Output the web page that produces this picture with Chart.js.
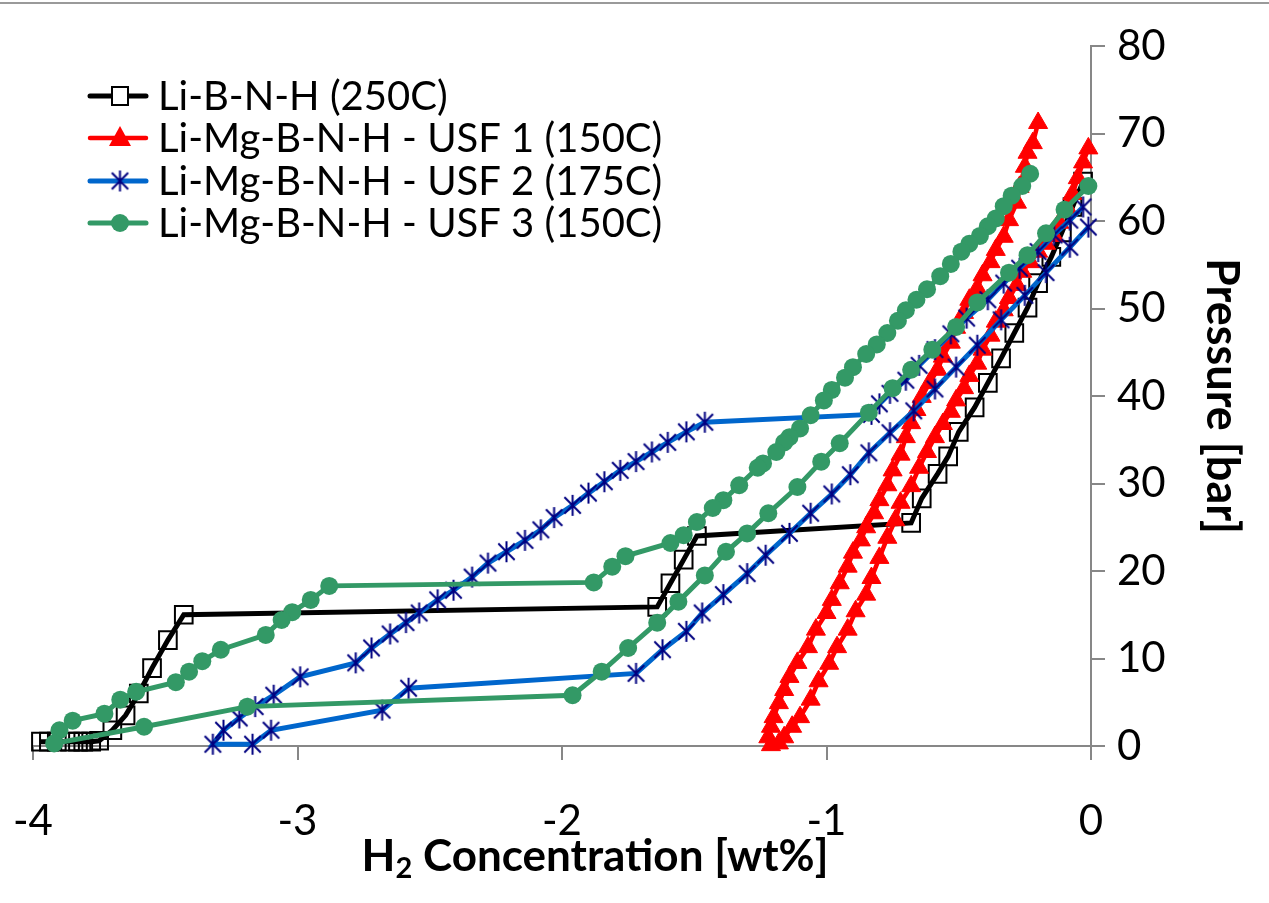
<!DOCTYPE html>
<html>
<head>
<meta charset="utf-8">
<script src="https://cdn.jsdelivr.net/npm/chart.js@4.4.1/dist/chart.umd.min.js"></script>
<style>
  html, body { margin: 0; padding: 0; background: #fff; }
  #wrap { width: 1269px; height: 903px; }
</style>
</head>
<body>
<div id="wrap"><canvas id="chart" width="1269" height="903"></canvas></div>
<script>
// x = H2 concentration [wt%], y = pressure [bar]

// Li-B-N-H (250C)
const libnhX = [-3.97, -3.94, -3.91, -3.86, -3.83, -3.81, -3.78, -3.75, -3.70, -3.65, -3.60, -3.55, -3.49, -3.43,
  -1.64, -1.59, -1.54, -1.49, -0.68, -0.64, -0.58, -0.54, -0.50, -0.44, -0.39, -0.34, -0.29, -0.24, -0.20, -0.15, -0.11, -0.07, -0.03];
const libnhY = [0.5, 0.5, 0.5, 0.5, 0.5, 0.5, 0.5, 0.6, 1.8, 3.5, 6.0, 8.9, 12.1, 15.0,
  15.9, 18.6, 21.3, 24.0, 25.5, 28.3, 31.1, 33.1, 35.9, 38.7, 41.5, 44.3, 47.2, 50.1, 52.9, 55.9, 58.7, 61.6, 64.5];

// Li-Mg-B-N-H - USF 1 (150C)
const usf1X = [-0.20, -0.22, -0.24, -0.25, -0.27, -0.28, -0.31, -0.33, -0.36, -0.38, -0.41, -0.43, -0.46, -0.48, -0.51,
  -0.53, -0.56, -0.58, -0.61, -0.64, -0.66, -0.68, -0.70, -0.72, -0.75, -0.77, -0.80, -0.82, -0.85, -0.87, -0.90,
  -0.92, -0.95, -0.98, -1.00, -1.04, -1.07, -1.11, -1.14, -1.16, -1.18, -1.20, -1.21, -1.22, -1.21,
  -1.18, -1.16, -1.13, -1.10, -1.06, -1.03, -0.99, -0.96, -0.92, -0.89, -0.85, -0.83, -0.80, -0.77, -0.74, -0.72,
  -0.68, -0.65, -0.62, -0.59, -0.56, -0.53, -0.51, -0.48, -0.46, -0.43, -0.41, -0.38, -0.36, -0.33, -0.31, -0.28,
  -0.26, -0.23, -0.20, -0.17, -0.14, -0.12, -0.09, -0.07, -0.05, -0.03, -0.01];
const usf1Y = [71.2, 68.9, 67.8, 66.2, 63.9, 62.1, 60.1, 58.2, 56.7, 55.3, 53.8, 52.3, 51.0, 49.5, 47.8,
  46.1, 44.5, 43.0, 41.5, 39.9, 38.4, 36.9, 35.3, 33.3, 31.5, 29.8, 28.1, 26.6, 25.0, 23.5, 22.1,
  20.5, 18.6, 16.7, 15.2, 13.3, 11.3, 9.5, 7.9, 6.4, 4.9, 3.3, 2.2, 1.0, 0.1,
  0.3, 1.0, 2.2, 3.3, 5.3, 7.4, 9.4, 11.3, 13.3, 15.4, 17.3, 19.2, 21.5, 23.8, 25.8, 27.8,
  29.7, 31.8, 33.6, 35.3, 36.8, 38.2, 39.5, 40.9, 42.3, 43.7, 45.3, 46.9, 48.5, 49.8, 51.2, 52.7,
  54.2, 55.3, 56.5, 57.4, 58.3, 59.8, 61.5, 63.1, 64.9, 66.7, 68.3];

// Li-Mg-B-N-H - USF 2 (175C)
const usf2X = [-0.03, -0.08, -0.14, -0.20, -0.27, -0.33, -0.39, -0.47, -0.53, -0.59, -0.65, -0.70, -0.76, -0.80, -0.83,
  -1.46, -1.53, -1.60, -1.66, -1.72, -1.78, -1.84, -1.90, -1.96, -2.03, -2.08, -2.14, -2.21, -2.28, -2.34, -2.41,
  -2.47, -2.54, -2.59, -2.65, -2.72, -2.78, -2.99, -3.09, -3.16, -3.22, -3.28, -3.32,
  -3.17, -3.10, -2.68, -2.58, -1.72, -1.62, -1.53, -1.47, -1.39, -1.30, -1.23, -1.14, -1.06, -0.98, -0.91, -0.84,
  -0.76, -0.67, -0.59, -0.51, -0.43, -0.34, -0.25, -0.17, -0.08, -0.01];
const usf2Y = [61.6, 60.1, 58.4, 56.5, 54.6, 52.9, 51.0, 48.9, 47.1, 45.3, 43.5, 41.8, 40.3, 39.1, 37.9,
  37.0, 35.9, 34.7, 33.6, 32.5, 31.5, 30.2, 28.9, 27.5, 26.1, 24.7, 23.5, 22.2, 20.9, 19.3, 17.8,
  16.7, 15.2, 14.1, 12.8, 11.2, 9.5, 7.9, 5.8, 4.5, 3.2, 1.8, 0.2,
  0.2, 1.8, 4.1, 6.6, 8.3, 11.0, 13.1, 15.2, 17.3, 19.7, 21.8, 24.3, 26.6, 28.8, 31.0, 33.5,
  35.8, 38.3, 40.8, 43.3, 45.8, 48.7, 51.5, 54.1, 57.0, 59.3];

// Li-Mg-B-N-H - USF 3 (150C)
const usf3X = [-0.23, -0.26, -0.30, -0.33, -0.36, -0.39, -0.42, -0.46, -0.49, -0.53, -0.57, -0.62, -0.66, -0.70, -0.73,
  -0.77, -0.81, -0.85, -0.90, -0.93, -0.98, -1.01, -1.06, -1.10, -1.14, -1.16, -1.19, -1.24, -1.26, -1.33, -1.39,
  -1.43, -1.49, -1.54, -1.59, -1.76, -1.81, -1.88, -2.88, -2.95, -3.02, -3.06, -3.12, -3.29, -3.36, -3.41, -3.46,
  -3.61, -3.67, -3.73, -3.85, -3.90, -3.92,
  -3.58, -3.19, -1.96, -1.85, -1.75, -1.64, -1.56, -1.46, -1.38, -1.30, -1.22, -1.11, -1.02, -0.95, -0.84,
  -0.75, -0.68, -0.60, -0.51, -0.43, -0.31, -0.24, -0.17, -0.10, -0.01];
const usf3Y = [65.4, 64.0, 62.9, 61.7, 60.3, 59.4, 58.3, 57.4, 56.5, 55.1, 53.7, 52.2, 51.0, 49.8, 48.6,
  47.2, 45.9, 44.8, 43.3, 42.1, 40.7, 39.5, 37.8, 36.3, 35.3, 34.7, 33.6, 32.3, 31.8, 29.8, 28.1,
  27.2, 25.6, 24.1, 23.2, 21.7, 20.5, 18.7, 18.3, 16.7, 15.3, 14.4, 12.7, 11.0, 9.7, 8.5, 7.3,
  6.2, 5.3, 3.7, 2.9, 1.8, 0.3,
  2.2, 4.5, 5.8, 8.5, 11.2, 14.1, 16.5, 19.5, 22.2, 24.3, 26.6, 29.6, 32.5, 34.6, 38.1,
  40.9, 43.0, 45.3, 47.9, 50.7, 54.1, 56.1, 58.6, 61.3, 64.0];

const seriesNames = ['Li-B-N-H (250C)', 'Li-Mg-B-N-H - USF 1 (150C)', 'Li-Mg-B-N-H - USF 2 (175C)', 'Li-Mg-B-N-H - USF 3 (150C)'];

const xTicks = [-4, -3, -2, -1, 0];
const yTicks = [0, 10, 20, 30, 40, 50, 60, 70, 80];

function pairs(xs, ys) {
    return xs.map((x, i) => ({ x: x, y: ys[i] }));
}

// asterisk marker like the spreadsheet one
function makeAsterisk(size, color) {
    const c = document.createElement('canvas');
    c.width = size;
    c.height = size;
    const g = c.getContext('2d');
    const m = size / 2;
    const r = size / 2 - 1;
    g.strokeStyle = color;
    g.lineWidth = 2;
    g.beginPath();
    g.moveTo(m, m - r); g.lineTo(m, m + r);
    const d = r * 0.78;
    g.moveTo(m - d, m - d); g.lineTo(m + d, m + d);
    g.moveTo(m + d, m - d); g.lineTo(m - d, m + d);
    g.stroke();
    return c;
}
const asterisk = makeAsterisk(23, '#000080');

const FONT = 'Lato';
const GREY = '#878787';

const extras = {
    id: 'extras',
    afterDraw(chart) {
        const ctx = chart.ctx;
        ctx.save();
        // thin frame line on top
        ctx.strokeStyle = '#9a9a9a';
        ctx.lineWidth = 2;
        ctx.beginPath();
        ctx.moveTo(0, 3);
        ctx.lineTo(1269, 3);
        ctx.stroke();

        // x axis title with subscript
        ctx.fillStyle = '#000';
        ctx.textBaseline = 'middle';
        ctx.textAlign = 'left';
        const big = 'bold 44px ' + FONT;
        const small = 'bold 29px ' + FONT;
        const rest = ' Concentration [wt%]';
        ctx.font = big;
        const wH = ctx.measureText('H').width;
        const wRest = ctx.measureText(rest).width;
        ctx.font = small;
        const w2 = ctx.measureText('2').width;
        let x0 = 595 - (wH + w2 + wRest) / 2;
        const yT = 857;
        ctx.font = big;
        ctx.fillText('H', x0, yT);
        ctx.font = small;
        ctx.fillText('2', x0 + wH, yT + 12);
        ctx.font = big;
        ctx.fillText(rest, x0 + wH + w2, yT);

        // legend
        const rows = [96, 138, 181, 223];
        chart.data.datasets.forEach((ds, i) => {
            const y = rows[i];
            ctx.strokeStyle = ds.borderColor;
            ctx.lineWidth = ds.borderWidth;
            ctx.lineCap = 'round';
            ctx.beginPath();
            ctx.moveTo(90, y);
            ctx.lineTo(146, y);
            ctx.stroke();
            const cx = 120;
            if (ds.pointStyle === 'rect') {
                ctx.fillStyle = '#fff';
                ctx.fillRect(cx - 8, y - 9, 16, 18);
                ctx.strokeStyle = '#000';
                ctx.lineWidth = 2;
                ctx.strokeRect(cx - 8, y - 9, 16, 18);
            } else if (ds.pointStyle === 'triangle') {
                ctx.fillStyle = ds.pointBackgroundColor;
                ctx.beginPath();
                ctx.moveTo(cx, y - 12);
                ctx.lineTo(cx + 11, y + 8);
                ctx.lineTo(cx - 11, y + 8);
                ctx.closePath();
                ctx.fill();
            } else if (ds.pointStyle === 'circle') {
                ctx.fillStyle = ds.pointBackgroundColor;
                ctx.beginPath();
                ctx.arc(cx, y, 9, 0, Math.PI * 2);
                ctx.fill();
            } else {
                ctx.drawImage(ds.pointStyle, cx - ds.pointStyle.width / 2, y - ds.pointStyle.height / 2);
            }
            ctx.fillStyle = '#000';
            ctx.font = '40px ' + FONT;
            ctx.textAlign = 'left';
            ctx.fillText(seriesNames[i], 158, y + 1);
        });
        ctx.restore();
    }
};

const ctx = document.getElementById('chart').getContext('2d');
new Chart(ctx, {
    type: 'scatter',
    data: {
        datasets: [{
            label: seriesNames[0],
            data: pairs(libnhX, libnhY),
            showLine: true,
            borderColor: '#000000',
            borderWidth: 5,
            pointStyle: 'rect',
            pointRadius: 12.5,
            pointBackgroundColor: 'rgba(0,0,0,0)',
            pointBorderColor: '#000000',
            pointBorderWidth: 2,
            order: 4,
            clip: false
        }, {
            label: seriesNames[1],
            data: pairs(usf1X, usf1Y),
            showLine: true,
            borderColor: '#ff0000',
            borderWidth: 4.5,
            pointStyle: 'triangle',
            pointRadius: 11,
            pointBackgroundColor: '#ff0000',
            pointBorderColor: '#ff0000',
            pointBorderWidth: 1,
            order: 3,
            clip: false
        }, {
            label: seriesNames[2],
            data: pairs(usf2X, usf2Y),
            showLine: true,
            borderColor: '#0066cc',
            borderWidth: 5,
            pointStyle: asterisk,
            pointRadius: 11,
            order: 2,
            clip: false
        }, {
            label: seriesNames[3],
            data: pairs(usf3X, usf3Y),
            showLine: true,
            borderColor: '#339966',
            borderWidth: 5,
            pointStyle: 'circle',
            pointRadius: 9,
            pointBackgroundColor: '#339966',
            pointBorderColor: '#339966',
            pointBorderWidth: 0,
            order: 1,
            clip: false
        }]
    },
    options: {
        responsive: false,
        animation: false,
        events: [],
        layout: { autoPadding: false, padding: { left: 33, top: 46, right: 0, bottom: 0 } },
        plugins: {
            legend: { display: false },
            tooltip: { enabled: false }
        },
        scales: {
            x: {
                type: 'linear',
                min: xTicks[0],
                max: xTicks[xTicks.length - 1],
                afterBuildTicks: s => { s.ticks = xTicks.map(v => ({ value: v })); },
                ticks: { font: { family: FONT, size: 42 }, color: '#000', padding: 36 },
                grid: { drawOnChartArea: false, drawTicks: true, tickLength: 14, color: GREY, lineWidth: 2 },
                border: { color: GREY, width: 2 },
                afterFit: s => { s.height = 157; s.paddingLeft = 0; s.paddingRight = 0; }
            },
            y: {
                type: 'linear',
                position: 'right',
                min: yTicks[0],
                max: yTicks[yTicks.length - 1],
                afterBuildTicks: s => { s.ticks = yTicks.map(v => ({ value: v })); },
                ticks: { font: { family: FONT, size: 42 }, color: '#000', padding: 12 },
                grid: { drawOnChartArea: false, drawTicks: true, tickLength: 14, color: GREY, lineWidth: 2 },
                border: { color: GREY, width: 2 },
                title: {
                    display: true,
                    text: 'Pressure [bar]',
                    color: '#000',
                    font: { family: FONT, size: 45, weight: 'bold' },
                    padding: { top: 20, bottom: 0 }
                },
                afterFit: s => { s.width = 178; s.paddingTop = 0; s.paddingBottom = 0; }
            }
        }
    },
    plugins: [extras]
});
</script>
</body>
</html>
